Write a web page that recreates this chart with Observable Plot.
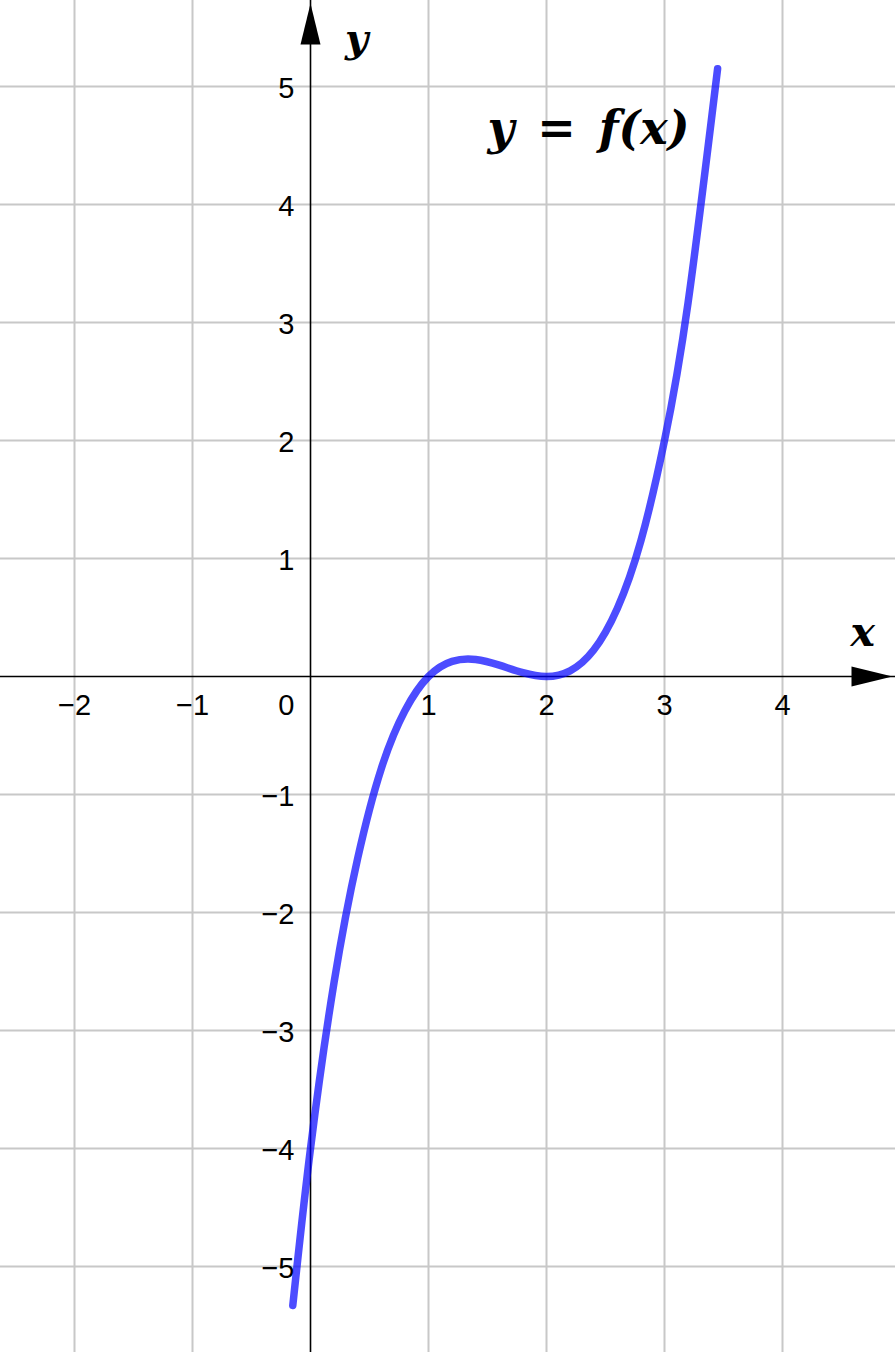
<!DOCTYPE html>
<html>
<head>
<meta charset="utf-8">
<script src="https://cdn.jsdelivr.net/npm/d3@7"></script>
<script src="https://cdn.jsdelivr.net/npm/@observablehq/plot@0.6"></script>
<style>
  html, body { margin: 0; padding: 0; background: #fff; }
  #chart svg { display: block; }
</style>
</head>
<body>
<div id="chart"></div>
<script>
// Grid / tick values
const xTicks = [-2, -1, 1, 2, 3, 4];
const xTickLabels = ["−2", "−1", "1", "2", "3", "4"];
const yTicks = [-5, -4, -3, -2, -1, 1, 2, 3, 4, 5];
const yTickLabels = ["−5", "−4", "−3", "−2", "−1", "1", "2", "3", "4", "5"];
const originLabel = ["0"];

// Curve points
const curveX = [-0.15, 0, 0.2, 0.4, 0.6, 0.8, 1, 1.2, 1.4, 1.6, 1.8, 2, 2.2, 2.4, 2.6, 2.8, 3, 3.2, 3.45];
const curveY = [-5.33, -4.0, -2.59, -1.54, -0.78, -0.29, 0, 0.128, 0.144, 0.096, 0.032, 0, 0.048, 0.224, 0.576, 1.15, 2.0, 3.17, 5.15];

const curve = curveX.map((x, i) => ({x, y: curveY[i]}));
const xT = xTicks.map((x, i) => ({x, label: xTickLabels[i]}));
const yT = yTicks.map((y, i) => ({y, label: yTickLabels[i]}));

const W = 895, H = 1352, unit = 118, ox = 310, oy = 676;
const xDomain = [-ox / unit, (W - ox) / unit];
const yDomain = [-(H - oy) / unit, oy / unit];

const arrowRight = {draw(ctx) { ctx.moveTo(-3, 0); ctx.lineTo(-44, -10); ctx.lineTo(-44, 10); ctx.closePath(); }};
const arrowUp = {draw(ctx) { ctx.moveTo(0, 3); ctx.lineTo(-10, 44); ctx.lineTo(10, 44); ctx.closePath(); }};

const mathFont = "'DejaVu Serif', 'Liberation Serif', serif";

const chart = Plot.plot({
  width: W,
  height: H,
  margin: 0,
  x: {domain: xDomain, axis: null},
  y: {domain: yDomain, axis: null},
  style: {fontFamily: "'Liberation Sans', Arial, sans-serif", background: "#fff"},
  marks: [
    Plot.ruleX([-2, -1, 1, 2, 3, 4], {stroke: "#c8c8c8", strokeWidth: 2}),
    Plot.ruleY(yTicks, {stroke: "#c8c8c8", strokeWidth: 2}),
    Plot.ruleX([0], {stroke: "#000", strokeWidth: 1.6}),
    Plot.ruleY([0], {stroke: "#000", strokeWidth: 1.6}),
    Plot.dot([0], {x: () => xDomain[1], y: () => 0, symbol: arrowRight, fill: "#000", stroke: null}),
    Plot.dot([0], {x: () => 0, y: () => yDomain[1], symbol: arrowUp, fill: "#000", stroke: null}),
    Plot.text(xT, {x: "x", y: () => 0, text: "label", dy: 29, fontSize: 29, fill: "#000"}),
    Plot.text(yT, {x: () => 0, y: "y", text: "label", dx: -16, dy: 2, textAnchor: "end", fontSize: 29, fill: "#000"}),
    Plot.text(originLabel, {x: () => 0, y: () => 0, text: d => d, dx: -16, dy: 29, textAnchor: "end", fontSize: 29, fill: "#000"}),
    Plot.line(curve, {x: "x", y: "y", curve: "natural", stroke: "#0000ff", strokeOpacity: 0.7, strokeWidth: 7.5, strokeLinecap: "round"}),
    Plot.text(["y\u2002=\u2002f(x)"], {x: () => 1.5, y: () => 4.64, text: d => d, textAnchor: "start", fontSize: 46, fontStyle: "italic", fontWeight: "bold", fontFamily: mathFont, fill: "#000"}),
    Plot.text(["x"], {x: () => 4.68, y: () => 0.37, text: d => d, fontSize: 41, fontStyle: "italic", fontWeight: "bold", fontFamily: mathFont, fill: "#000"}),
    Plot.text(["y"], {x: () => 0.39, y: () => 5.4, text: d => d, fontSize: 40, fontStyle: "italic", fontWeight: "bold", fontFamily: mathFont, fill: "#000"})
  ]
});
document.getElementById("chart").appendChild(chart);
</script>
</body>
</html>
